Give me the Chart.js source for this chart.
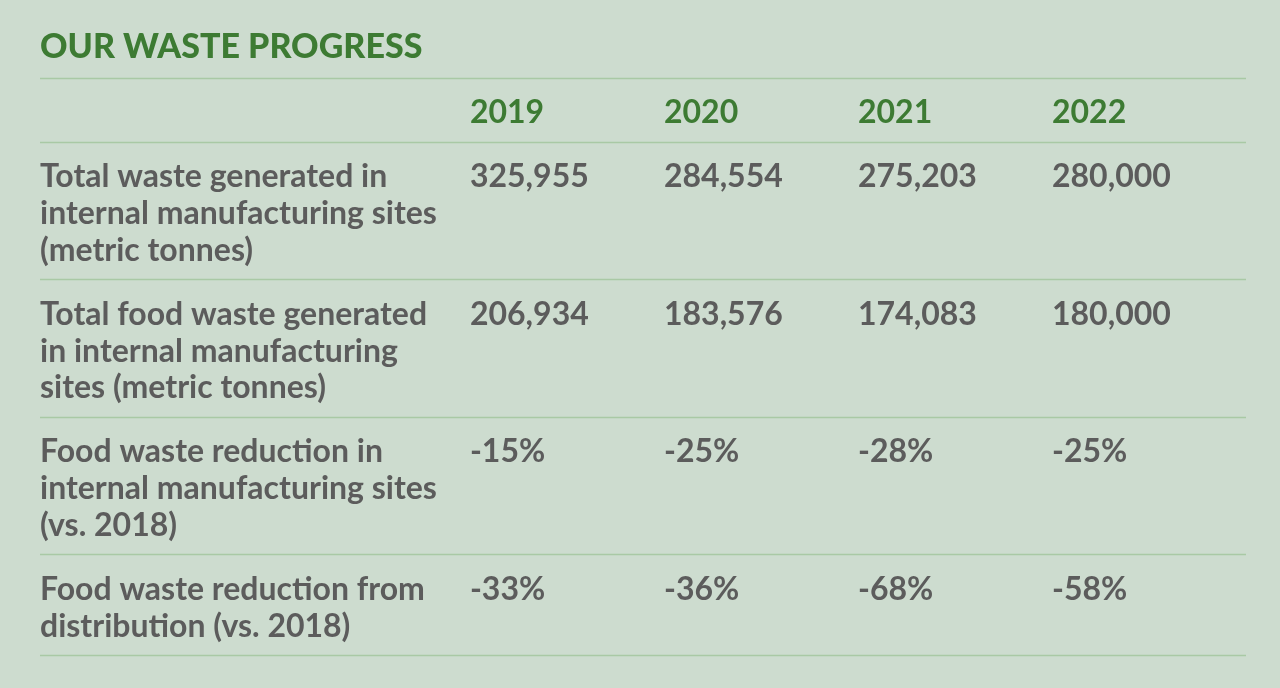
<!DOCTYPE html>
<html>
<head>
<meta charset="utf-8">
<script src="https://cdn.jsdelivr.net/npm/chart.js@4.4.0/dist/chart.umd.min.js"></script>
<style>
  html, body { margin: 0; padding: 0; background: #cddccf; }
  #wrap { width: 1280px; height: 688px; }
</style>
</head>
<body>
<div id="wrap"><canvas id="tabela"></canvas></div>
<script>
const anos = ["2019", "2020", "2021", "2022"];
const rotulos = [
  ["Total waste generated in", "internal manufacturing sites", "(metric tonnes)"],
  ["Total food waste generated", "in internal manufacturing", "sites (metric tonnes)"],
  ["Food waste reduction in", "internal manufacturing sites", "(vs. 2018)"],
  ["Food waste reduction from", "distribution (vs. 2018)"]
];
const residuoTotal = [325955, 284554, 275203, 280000];
const residuoAlimentar = [206934, 183576, 174083, 180000];
const reducaoFabricas = [-15, -25, -28, -25];
const reducaoDistribuicao = [-33, -36, -68, -58];

const linhas = [
  residuoTotal.map(v => v.toLocaleString("en-US")),
  residuoAlimentar.map(v => v.toLocaleString("en-US")),
  reducaoFabricas.map(v => v + "%"),
  reducaoDistribuicao.map(v => v + "%")
];

const VERDE = "#3d7b33";
const CINZA = "#5c5c5c";
const FONTE = "Lato, sans-serif";
const PAD = 0.73;     // folga de cada linha da tabela, em alturas de linha
const BASE = 1.23;    // da borda de cima da linha ate a primeira linha de texto

// topo de cada linha (cabecalho + dados) em unidades de "linha de texto"
let topos = [0];
let acc = 1 + PAD;
rotulos.forEach(r => { topos.push(acc); acc += r.length + PAD; });
const fundo = acc;

// pontos: um por celula, o texto eh desenhado na posicao do ponto
let celulas = [];
anos.forEach((a, i) => celulas.push({ x: i, y: topos[0] + BASE, texto: [a], cabecalho: true }));
rotulos.forEach((r, j) => {
  celulas.push({ x: -2.216, y: topos[j + 1] + BASE, texto: r, cabecalho: false });
  linhas[j].forEach((v, i) => celulas.push({ x: i, y: topos[j + 1] + BASE, texto: [v], cabecalho: false }));
});

const desenhaCelulas = {
  id: "desenhaCelulas",
  afterDatasetsDraw(chart) {
    const ctx = chart.ctx;
    const y = chart.scales.y;
    const area = chart.chartArea;
    const um = Math.abs(y.getPixelForValue(1) - y.getPixelForValue(0));

    ctx.save();
    ctx.strokeStyle = "#a9c9a5";
    ctx.lineWidth = 1.5;
    topos.concat([fundo]).forEach(t => {
      const py = Math.round(y.getPixelForValue(t)) + 0.5;
      ctx.beginPath();
      ctx.moveTo(area.left, py);
      ctx.lineTo(area.right, py);
      ctx.stroke();
    });

    const meta = chart.getDatasetMeta(0);
    ctx.textAlign = "left";
    ctx.textBaseline = "alphabetic";
    meta.data.forEach((pt, k) => {
      const c = celulas[k];
      ctx.fillStyle = c.cabecalho ? VERDE : CINZA;
      ctx.font = "bold 32px " + FONTE;
      c.texto.forEach((t, n) => ctx.fillText(t, pt.x, pt.y + n * um));
    });
    ctx.restore();
  }
};

const ctx = document.getElementById("tabela");
const myChart = new Chart(ctx, {
  type: "scatter",
  data: {
    datasets: [{
      data: celulas,
      pointRadius: 0,
      pointHoverRadius: 0
    }]
  },
  options: {
    responsive: true,
    maintainAspectRatio: false,
    animation: false,
    events: [],
    layout: { padding: { left: 40, right: 34, top: 0, bottom: 33 } },
    scales: {
      x: { type: "linear", min: -2.216, max: 4, display: false },
      y: { type: "linear", min: 0, max: fundo, reverse: true, display: false }
    },
    plugins: {
      legend: { display: false },
      tooltip: { enabled: false },
      title: {
        display: true,
        text: "OUR WASTE PROGRESS",
        align: "start",
        color: VERDE,
        font: { family: FONTE, size: 34, weight: "900", lineHeight: 1.2 },
        padding: { top: 27, bottom: 10.2 }
      }
    }
  },
  plugins: [desenhaCelulas]
});
</script>
</body>
</html>
